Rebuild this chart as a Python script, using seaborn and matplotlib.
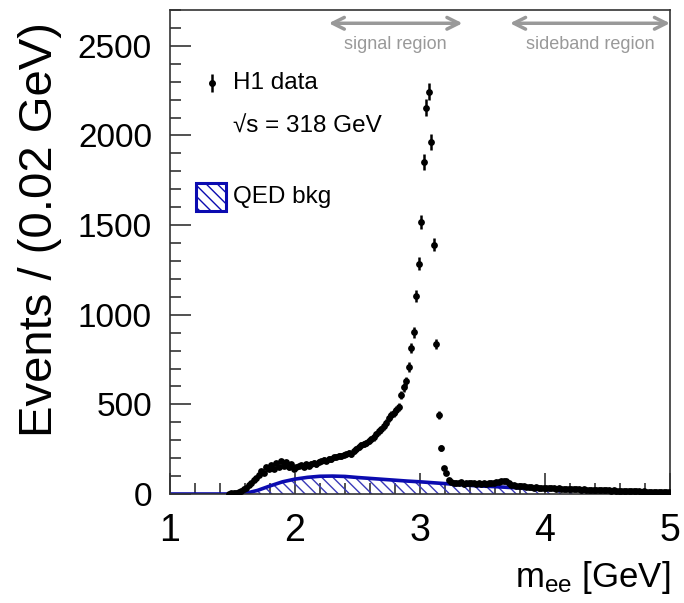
import numpy as np
import matplotlib
matplotlib.use("Agg")
import matplotlib.pyplot as plt
import seaborn as sns
from matplotlib.ticker import MultipleLocator

# Di-electron invariant mass spectrum, 0.02 GeV bins
bin_width = 0.02
first_bin_center = 1.47
events = [
    2, 4, 6, 8, 10, 18, 26, 34, 48, 62,
    78, 92, 108, 130, 118, 148, 138, 160, 142, 172,
    150, 182, 158, 176, 148, 168, 140, 150, 156, 162,
    150, 165, 158, 170, 174, 166, 180, 184, 190, 186,
    198, 194, 204, 208, 214, 212, 220, 222, 228, 224,
    240, 250, 262, 272, 280, 286, 296, 306, 316, 334,
    350, 362, 378, 398, 424, 440, 452, 468, 486, 553,
    596, 630, 708, 814, 901, 1106, 1285, 1516, 1853, 2155,
    2244, 1963, 1391, 838, 441, 255, 145, 115, 80, 66,
    62, 64, 60, 66, 58, 62, 64, 60, 62, 58,
    60, 56, 62, 58, 60, 62, 64, 66, 68, 72,
    74, 70, 64, 52, 48, 46, 44, 42, 44, 40,
    38, 40, 36, 38, 34, 36, 34, 32, 34, 33,
    32, 30, 32, 30, 28, 30, 28, 27, 28, 26,
    26, 25, 27, 24, 25, 23, 24, 22, 23, 21,
    22, 20, 21, 19, 20, 18, 19, 17, 18, 16,
    17, 15, 16, 14, 15, 13, 14, 12, 13, 12,
    11, 12, 10, 11, 10, 9, 10,
]

# QED background expectation
qed_mass = [1.0, 1.1, 1.2, 1.3, 1.4, 1.5, 1.55, 1.6, 1.7, 1.8, 1.9, 2.0,
            2.1, 2.2, 2.3, 2.4, 2.5, 2.6, 2.7, 2.8, 2.9, 3.0, 3.1, 3.2,
            3.3, 3.4, 3.5, 3.6, 3.7, 3.8, 3.9, 4.0, 4.2, 4.4, 4.6, 4.8, 5.0]
qed_events = [0, 0, 0, 0, 0, 0, 0, 3, 20, 45, 68, 83,
              93, 99, 100, 98, 92, 87, 82, 77, 72, 68, 63, 58,
              53, 48, 44, 41, 37, 34, 31, 28, 23, 19, 15, 11, 7]

mass = first_bin_center + bin_width * np.arange(len(events))
counts = np.array(events, dtype=float)
errors = np.sqrt(counts)

sns.set_theme(style="ticks")
plt.rcParams["font.family"] = ["Liberation Sans", "DejaVu Sans"]
plt.rcParams["mathtext.fontset"] = "custom"
plt.rcParams["mathtext.rm"] = "Liberation Sans"
plt.rcParams["mathtext.it"] = "Liberation Sans"
plt.rcParams["hatch.linewidth"] = 1.0
plt.rcParams["text.color"] = "black"
plt.rcParams["axes.labelcolor"] = "black"

fig = plt.figure(figsize=(6.84, 6.03), dpi=100)
ax = fig.add_axes([170 / 684, 1 - 494 / 603, 500 / 684, 484 / 603])

qed_blue = "#0b0bb0"
ax.fill_between(qed_mass, 0, qed_events, facecolor="none", edgecolor="#3a3ab8",
                hatch="\\\\\\", linewidth=0, zorder=1)
sns.lineplot(x=qed_mass, y=qed_events, color=qed_blue, linewidth=2.6, ax=ax, zorder=2)

ax.errorbar(mass, counts, yerr=errors, fmt="none", ecolor="black",
            elinewidth=1.8, capsize=0, zorder=3)
sns.scatterplot(x=mass, y=counts, color="black", edgecolor="black", s=24,
                linewidth=0, ax=ax, zorder=4)

ax.set_xlim(1, 5)
ax.set_ylim(0, 2700)
ax.xaxis.set_major_locator(MultipleLocator(1))
ax.xaxis.set_minor_locator(MultipleLocator(0.2))
ax.yaxis.set_major_locator(MultipleLocator(500))
ax.yaxis.set_minor_locator(MultipleLocator(100))
ax.tick_params(which="both", direction="in", top=False, right=False,
               colors="#333333", labelcolor="black")
ax.tick_params(which="major", length=15, width=1.2)
ax.tick_params(which="minor", length=8, width=1.2)
ax.tick_params(axis="x", which="major", pad=14, labelsize=27)
ax.tick_params(axis="y", which="major", pad=13, labelsize=24)
for side in ax.spines.values():
    side.set_linewidth(1.2)
    side.set_color("#333333")

ax.set_xlabel(r"m$_{\mathregular{ee}}$ [GeV]", fontsize=25, loc="right", labelpad=7)
ax.set_ylabel("Events / (0.02 GeV)", fontsize=34, ha="right")
ax.yaxis.set_label_coords(-0.215, 0.975)

# region markers
grey = "#999999"
arrow_kw = dict(arrowstyle="<->,head_length=0.7,head_width=0.35", color=grey,
                lw=2.5, shrinkA=0, shrinkB=0)
ax.annotate("", xy=(2.27, 2626), xytext=(3.34, 2626), arrowprops=arrow_kw,
            annotation_clip=False)
ax.annotate("", xy=(3.72, 2626), xytext=(5.0, 2626), arrowprops=arrow_kw,
            annotation_clip=False)
ax.text(2.8, 2505, "signal region", color=grey, fontsize=13, ha="center", va="center")
ax.text(4.36, 2505, "sideband region", color=grey, fontsize=13, ha="center", va="center")

# legend block
ax.errorbar([0.084], [0.849], yerr=[0.019], fmt="o", color="black", markersize=4,
            elinewidth=1.8, transform=ax.transAxes, clip_on=False)
ax.text(0.126, 0.849, "H1 data", fontsize=17.5, va="center", transform=ax.transAxes)
ax.text(0.126, 0.758, "√s = 318 GeV", fontsize=17.5, va="center", transform=ax.transAxes)
box = plt.Rectangle((0.052, 0.585), 0.060, 0.058, transform=ax.transAxes,
                    facecolor="none", edgecolor=qed_blue, hatch="\\\\\\", lw=2.2)
ax.add_patch(box)
ax.text(0.126, 0.614, "QED bkg", fontsize=17.5, va="center", transform=ax.transAxes)

fig.savefig("out.png", dpi=100)
